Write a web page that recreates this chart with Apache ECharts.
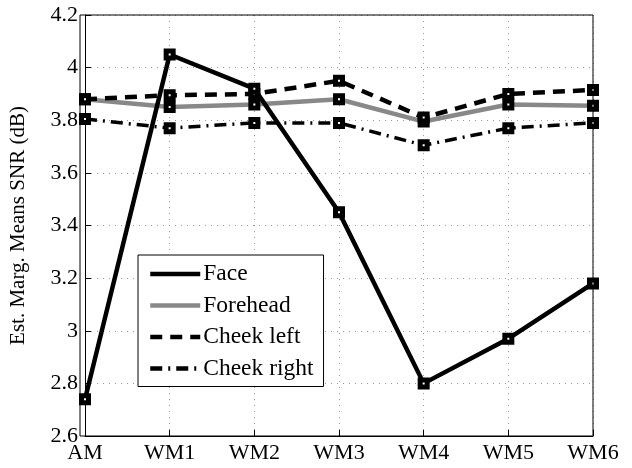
<!DOCTYPE html>
<html><head><meta charset="utf-8">
<script src="https://cdn.jsdelivr.net/npm/echarts@6/dist/echarts.min.js"></script>
<style>html,body{margin:0;padding:0;background:#fff}#c{width:632px;height:468px}</style>
</head><body><div id="c"></div>
<script>
const categories = ['AM','WM1','WM2','WM3','WM4','WM5','WM6'];
const face = [2.74, 4.05, 3.92, 3.45, 2.80, 2.97, 3.18];
const forehead = [3.88, 3.85, 3.86, 3.88, 3.795, 3.86, 3.855];
const cheekLeft = [3.88, 3.895, 3.90, 3.95, 3.81, 3.90, 3.915];
const cheekRight = [3.805, 3.77, 3.79, 3.79, 3.705, 3.77, 3.79];
const yTicks = {min: 2.6, max: 4.2, interval: 0.2};

const font = 'Liberation Serif';
function mk(name, data, color, type, width) {
  return {
    name, type: 'line', data,
    symbol: 'rect', symbolSize: 7,
    itemStyle: {color: '#fff', borderColor: '#000', borderWidth: 5},
    lineStyle: {color, width, type},
    z: name === 'Face' ? 5 : 3
  };
}
const chart = echarts.init(document.getElementById('c'));
chart.setOption({
  animation: false,
  grid: {left: 80, right: 39, top: 15, bottom: 32},
  xAxis: {
    type: 'category', data: categories, boundaryGap: false,
    axisLine: {lineStyle: {color: '#000', width: 1}},
    axisTick: {inside: true, length: 6, lineStyle: {color: '#000'}},
    axisLabel: {fontFamily: font, fontSize: 22, color: '#000', margin: 6},
    splitLine: {show: true, lineStyle: {color: '#999', type: [1, 5]}}
  },
  yAxis: {
    type: 'value', min: yTicks.min, max: yTicks.max, interval: yTicks.interval,
    name: 'Est. Marg. Means SNR (dB)', nameLocation: 'middle', nameGap: 56,
    nameTextStyle: {fontFamily: font, fontSize: 21, color: '#000'},
    axisLine: {show: true, lineStyle: {color: '#000', width: 1}},
    axisTick: {show: true, inside: true, length: 6, lineStyle: {color: '#000'}},
    axisLabel: {fontFamily: font, fontSize: 22, color: '#000', margin: 7,
      formatter: v => String(+v.toFixed(1))},
    splitLine: {show: true, lineStyle: {color: '#999', type: [1, 5]}}
  },
  graphic: [{type: 'rect', shape: {x: 80, y: 15, width: 513, height: 421},
    style: {fill: 'none', stroke: '#000', lineWidth: 1}, silent: true, z: 10}],
  legend: {
    orient: 'vertical', left: 138, top: 255,
    backgroundColor: '#fff', borderColor: '#000', borderWidth: 1,
    padding: [7, 10, 6, 10], itemGap: 7.5, itemWidth: 50, itemHeight: 24,
    itemStyle: {opacity: 0},
    lineStyle: {width: 4.5},
    textStyle: {fontFamily: font, fontSize: 23.5, color: '#000', padding: [0, 0, 0, -2]},
    data: ['Face', 'Forehead', 'Cheek left', 'Cheek right']
  },
  series: [
    mk('Face', face, '#000', 'solid', 4.5),
    mk('Forehead', forehead, '#888', 'solid', 4.5),
    mk('Cheek left', cheekLeft, '#000', [12, 8], 4.5),
    mk('Cheek right', cheekRight, '#000', [12, 6, 2, 6], 3.5)
  ]
});
</script></body></html>
